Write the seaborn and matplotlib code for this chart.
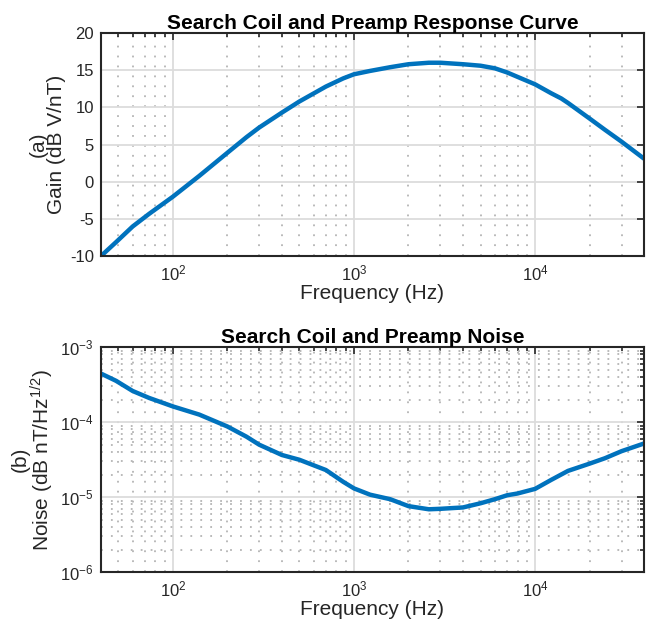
import matplotlib
matplotlib.use("Agg")
import matplotlib.pyplot as plt
import matplotlib.ticker as mticker
import numpy as np
import pandas as pd
import seaborn as sns

# response curve
gain_freq = [40, 48.6, 60, 74, 100, 140, 200, 255, 300, 400, 500, 700, 873,
             1000, 1227, 1585, 2000, 2590, 3000, 4000, 5000, 6000, 7000, 8000,
             10000, 12270, 13950, 15190, 20000, 24270, 30000, 40000]
gain_db = [-10.0, -8.1, -6.0, -4.3, -2.0, 0.8, 3.9, 6.0, 7.3, 9.3, 10.8, 12.8,
           13.9, 14.45, 14.9, 15.4, 15.8, 16.0, 16.0, 15.8, 15.6, 15.25, 14.7,
           14.1, 13.1, 11.9, 11.2, 10.6, 8.5, 7.0, 5.4, 3.1]

# noise curve
noise_freq = [40, 48.6, 60, 74, 100, 140, 200, 255, 300, 400, 500, 700, 873,
              1000, 1227, 1585, 2000, 2590, 3000, 4000, 5000, 6000, 7000, 8000,
              10000, 12270, 15190, 20000, 24270, 30000, 40000]
noise_val = [4.45e-4, 3.55e-4, 2.6e-4, 2.1e-4, 1.62e-4, 1.26e-4, 8.75e-5,
             6.4e-5, 5.0e-5, 3.65e-5, 3.15e-5, 2.3e-5, 1.6e-5, 1.31e-5,
             1.08e-5, 9.4e-6, 7.6e-6, 6.9e-6, 7.0e-6, 7.3e-6, 8.3e-6, 9.4e-6,
             1.06e-5, 1.12e-5, 1.29e-5, 1.7e-5, 2.24e-5, 2.8e-5, 3.3e-5,
             4.1e-5, 5.2e-5]

sns.set_style("white")
plt.rcParams["font.family"] = ["Liberation Sans", "DejaVu Sans"]
plt.rcParams["mathtext.fontset"] = "custom"
plt.rcParams["mathtext.rm"] = "Liberation Sans"
plt.rcParams["mathtext.it"] = "Liberation Sans:italic"
plt.rcParams["mathtext.default"] = "regular"
plt.rcParams["axes.unicode_minus"] = False

LINE = "#0072BD"
DARK = "#262626"

fig = plt.figure(figsize=(6.5, 6.22), dpi=100)
ax1 = fig.add_axes([0.155, 0.588, 0.836, 0.359])
ax2 = fig.add_axes([0.155, 0.080, 0.836, 0.362])

gain = pd.DataFrame({"freq": gain_freq, "gain": gain_db})
noise = pd.DataFrame({"freq": noise_freq, "noise": noise_val})

sns.lineplot(data=gain, x="freq", y="gain", ax=ax1, color=LINE, linewidth=3.2,
             solid_joinstyle="round", solid_capstyle="butt")
sns.lineplot(data=noise, x="freq", y="noise", ax=ax2, color=LINE, linewidth=3.2,
             solid_joinstyle="round", solid_capstyle="butt")


def style(ax, logy):
    ax.set_xscale("log")
    ax.set_xlim(40, 40000)
    ax.xaxis.set_major_locator(mticker.FixedLocator([1e2, 1e3, 1e4]))
    ax.xaxis.set_minor_locator(mticker.LogLocator(base=10, subs=np.arange(2, 10), numticks=20))
    ax.xaxis.set_minor_formatter(mticker.NullFormatter())
    if logy:
        ax.set_yscale("log")
        ax.set_ylim(1e-6, 1e-3)
        ax.yaxis.set_major_locator(mticker.FixedLocator([1e-6, 1e-5, 1e-4, 1e-3]))
        ax.yaxis.set_minor_locator(mticker.LogLocator(base=10, subs=np.arange(2, 10), numticks=20))
        ax.yaxis.set_minor_formatter(mticker.NullFormatter())
    ax.grid(True, which="major", color="#dcdcdc", linewidth=1.3, linestyle="-")
    ax.grid(True, which="minor", axis="both" if logy else "x", color="#b4b4b4",
            linewidth=1.3, linestyle=(0, (1.0, 4.5)))
    ax.set_axisbelow(True)
    ax.tick_params(which="both", direction="in", top=True, right=True,
                   colors=DARK, labelsize=12, width=1.2)
    ax.tick_params(which="major", length=5, pad=5)
    ax.tick_params(which="minor", length=3)
    for s in ax.spines.values():
        s.set_visible(True)
        s.set_color(DARK)
        s.set_linewidth(1.5)
    ax.set_xlabel("Frequency (Hz)", fontsize=15, color=DARK, labelpad=1)


style(ax1, False)
ax1.set_ylim(-10, 20)
ax1.set_yticks(range(-10, 21, 5))
ax1.set_title("Search Coil and Preamp Response Curve", fontsize=15,
              fontweight="bold", pad=3, color="black")
ax1.set_ylabel("(a)\nGain (dB V/nT)", fontsize=15, color=DARK,
               multialignment="center", labelpad=3, linespacing=0.95)

style(ax2, True)
ax2.set_title("Search Coil and Preamp Noise", fontsize=15,
              fontweight="bold", pad=3, color="black")
ax2.set_ylabel("(b)\nNoise (dB nT/Hz$^{1/2}$)", fontsize=15, color=DARK,
               multialignment="center", labelpad=3, linespacing=0.95)

fig.savefig("out.png", dpi=100)
